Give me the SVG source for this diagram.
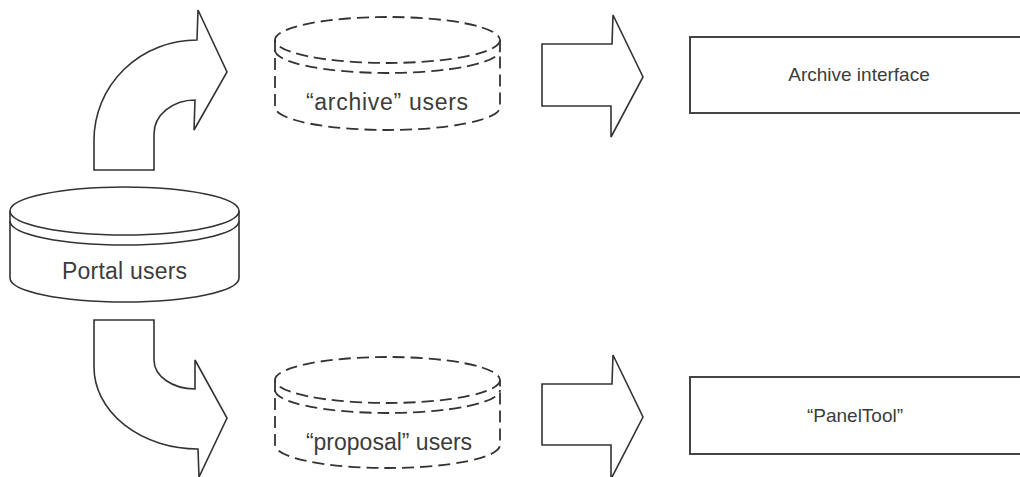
<svg xmlns="http://www.w3.org/2000/svg" width="1020" height="477" viewBox="0 0 1020 477">
  <style>
    .shape { fill: #ffffff; stroke: #333333; stroke-width: 1.6; stroke-linejoin: miter; }
    .line { fill: none; stroke: #333333; stroke-width: 1.6; }
    .dashed { stroke-dasharray: 12 6; stroke-width: 1.8; }
    .box { fill: #ffffff; stroke: #444444; stroke-width: 2; }
    .label { font-family: "Liberation Sans", Arial, sans-serif; fill: #3c3c3c; text-anchor: middle; }
    .big { font-size: 23px; }
    .small { font-size: 19px; }
  </style>

  <rect width="1020" height="477" fill="#ffffff"/>

  <!-- block arrows between the stores and the interfaces -->
  <g id="connectors">
    <!-- curved arrow up to the archive store -->
    <path class="shape" d="M 94 170 L 154 170 L 154 134 A 41 34 0 0 1 195 100 L 194 130 L 227 72 L 198 10 L 197 40 A 103 100 0 0 0 94 140 Z"/>
    <!-- curved arrow down to the proposal store -->
    <path class="shape" d="M 94 320 L 154 320 L 154 360 A 41 29 0 0 0 195 389 L 195 360 L 227 418 L 199 477 L 198 449 A 104 82 0 0 1 94 367 Z"/>
    <!-- straight arrow to the archive interface -->
    <path class="shape" d="M 542 44 L 612 44 L 613 15 L 643 77 L 611 137 L 611 106 L 542 106 Z"/>
    <!-- straight arrow to the panel tool -->
    <path class="shape" d="M 542 384 L 612 384 L 613 355 L 643 417 L 611 479 L 611 445 L 542 445 Z"/>
  </g>

  <!-- solid cylinder -->
  <g id="portal-users">
    <path d="M 10 211 L 10 278 A 114.5 24 0 0 0 239 278 L 239 211 Z" fill="#ffffff"/>
    <ellipse class="shape" cx="124.5" cy="211" rx="114.5" ry="24"/>
    <path class="line" d="M 10 221 A 114.5 24 0 0 0 239 221"/>
    <path class="line" d="M 10 211 L 10 278 A 114.5 24 0 0 0 239 278 L 239 211"/>
    <text class="label big" x="124.5" y="279" textLength="125" lengthAdjust="spacing">Portal users</text>
  </g>

  <!-- dashed cylinder, top -->
  <g id="archive-users">
    <path d="M 275 40 L 275 107 A 112.5 23 0 0 0 500 107 L 500 40 Z" fill="#ffffff"/>
    <ellipse class="shape dashed" cx="387.5" cy="40" rx="112.5" ry="23"/>
    <path class="line dashed" d="M 275 50 A 112.5 23 0 0 0 500 50"/>
    <path class="line dashed" d="M 275 40 L 275 107 A 112.5 23 0 0 0 500 107 L 500 40"/>
    <text class="label big" x="387" y="110" textLength="162" lengthAdjust="spacing">“archive” users</text>
  </g>

  <!-- dashed cylinder, bottom -->
  <g id="proposal-users">
    <path d="M 275 380 L 275 445 A 112.5 23 0 0 0 500 445 L 500 380 Z" fill="#ffffff"/>
    <ellipse class="shape dashed" cx="387.5" cy="380" rx="112.5" ry="23"/>
    <path class="line dashed" d="M 275 390 A 112.5 23 0 0 0 500 390"/>
    <path class="line dashed" d="M 275 380 L 275 445 A 112.5 23 0 0 0 500 445 L 500 380"/>
    <text class="label big" x="389" y="450">“proposal” users</text>
  </g>

  <!-- interface boxes, running past the right edge -->
  <g id="archive-interface">
    <rect class="box" x="690" y="37" width="340" height="76"/>
    <text class="label small" x="859" y="81">Archive interface</text>
  </g>

  <g id="paneltool">
    <rect class="box" x="690" y="377" width="340" height="77"/>
    <text class="label small" x="855" y="422">“PanelTool”</text>
  </g>
</svg>
